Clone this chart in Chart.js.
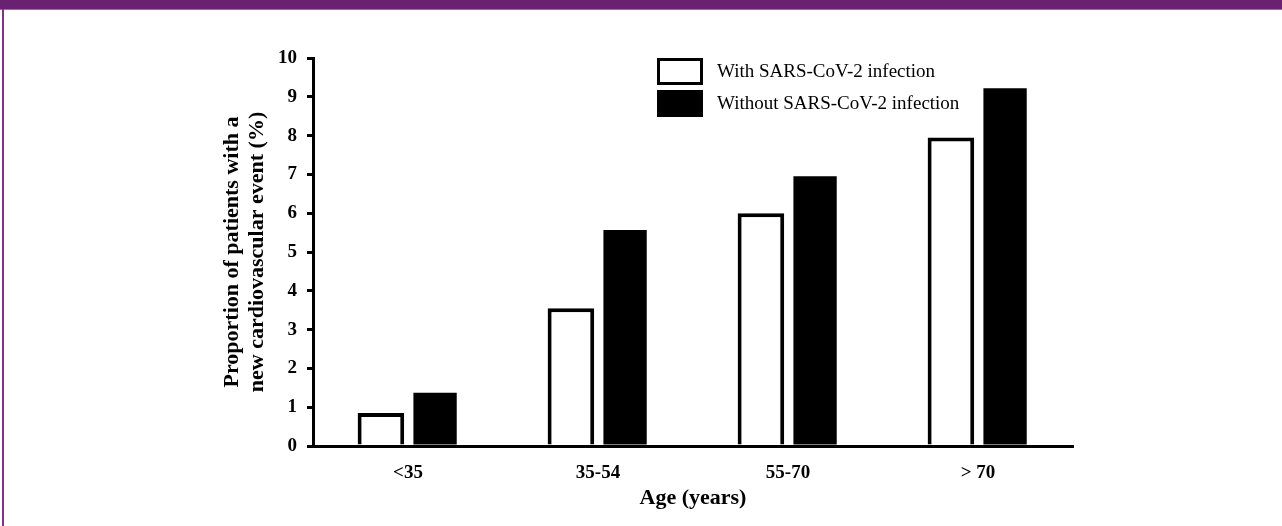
<!DOCTYPE html>
<html>
<head>
<meta charset="utf-8">
<script src="https://cdn.jsdelivr.net/npm/chart.js@4.4.1/dist/chart.umd.min.js"></script>
<style>
  html, body { margin: 0; padding: 0; background: #fff; }
  .wrap { position: relative; width: 1282px; height: 526px; overflow: hidden; }
  .topbar { position: absolute; left: 0; top: 0; width: 1282px; height: 9px; background: #6b2171; border-bottom: 1px solid #a06aa3; }
  .leftline { position: absolute; left: 2px; top: 9px; width: 2px; height: 517px; background: #7b3580; }
  canvas { position: absolute; left: 0; top: 0; }
</style>
</head>
<body>
<div class="wrap">
  <canvas id="age-chart" width="1282" height="526"></canvas>
  <div class="topbar"></div>
  <div class="leftline"></div>
</div>
<script>
const ageGroups = ["<35", "35-54", "55-70", "> 70"];
const withInfection = [0.85, 3.55, 6.0, 7.95];
const withoutInfection = [1.37, 5.57, 6.95, 9.22];
const seriesNames = ["With SARS-CoV-2 infection", "Without SARS-CoV-2 infection"];
const yTitle = ["Proportion of patients with a", "new cardiovascular event (%)"];
const xTitle = "Age (years)";

const serif = "'Liberation Serif', 'Times New Roman', serif";

// legend boxes drawn inside the plot, top right
const boxLegend = {
    id: "boxLegend",
    afterDraw(chart) {
        const ctx = chart.ctx;
        const x = 657, y0 = 58;
        ctx.save();
        chart.data.datasets.forEach((ds, i) => {
            const y = y0 + i * 32;
            ctx.fillStyle = ds.backgroundColor;
            ctx.fillRect(x, y, 46, 27);
            ctx.lineWidth = 3;
            ctx.strokeStyle = "#000";
            ctx.strokeRect(x + 1.5, y + 1.5, 43, 24);
            ctx.fillStyle = "#000";
            ctx.font = "19px " + serif;
            ctx.textBaseline = "middle";
            ctx.fillText(ds.label, 717, y + 14);
        });
        ctx.restore();
    }
};

new Chart(document.getElementById("age-chart"), {
    type: "bar",
    data: {
        labels: ageGroups,
        datasets: [
            {
                label: seriesNames[0],
                data: withInfection,
                backgroundColor: "#ffffff",
                borderColor: "#000000",
                borderWidth: 4,
                categoryPercentage: 0.57,
                barPercentage: 0.86
            },
            {
                label: seriesNames[1],
                data: withoutInfection,
                backgroundColor: "#000000",
                borderColor: "#000000",
                borderWidth: 0,
                categoryPercentage: 0.57,
                barPercentage: 0.8
            }
        ]
    },
    options: {
        responsive: false,
        animation: false,
        layout: { padding: { left: 200, right: 209, top: 58, bottom: 0 } },
        plugins: {
            legend: { display: false },
            tooltip: { enabled: false }
        },
        scales: {
            x: {
                grid: { display: false },
                border: { color: "#000", width: 3 },
                ticks: {
                    color: "#000",
                    padding: 8,
                    font: { family: serif, size: 19, weight: "bold" }
                },
                title: {
                    display: true,
                    text: xTitle,
                    color: "#000",
                    font: { family: serif, size: 22, weight: "bold" },
                    padding: { top: 0, bottom: 14 }
                },
                afterFit(scale) { scale.height = 80; }
            },
            y: {
                min: 0,
                max: 10,
                grid: {
                    drawOnChartArea: false,
                    drawTicks: true,
                    tickLength: 6,
                    lineWidth: 3,
                    color: "#000"
                },
                border: { color: "#000", width: 3 },
                ticks: {
                    stepSize: 1,
                    color: "#000",
                    padding: 10,
                    font: { family: serif, size: 19, weight: "bold" }
                },
                title: {
                    display: true,
                    text: yTitle,
                    color: "#000",
                    font: { family: serif, size: 22, weight: "bold", lineHeight: 1.14 },
                    padding: { top: 20, bottom: 0 }
                },
                afterFit(scale) { scale.width = 113; }
            }
        }
    },
    plugins: [boxLegend]
});
</script>
</body>
</html>
